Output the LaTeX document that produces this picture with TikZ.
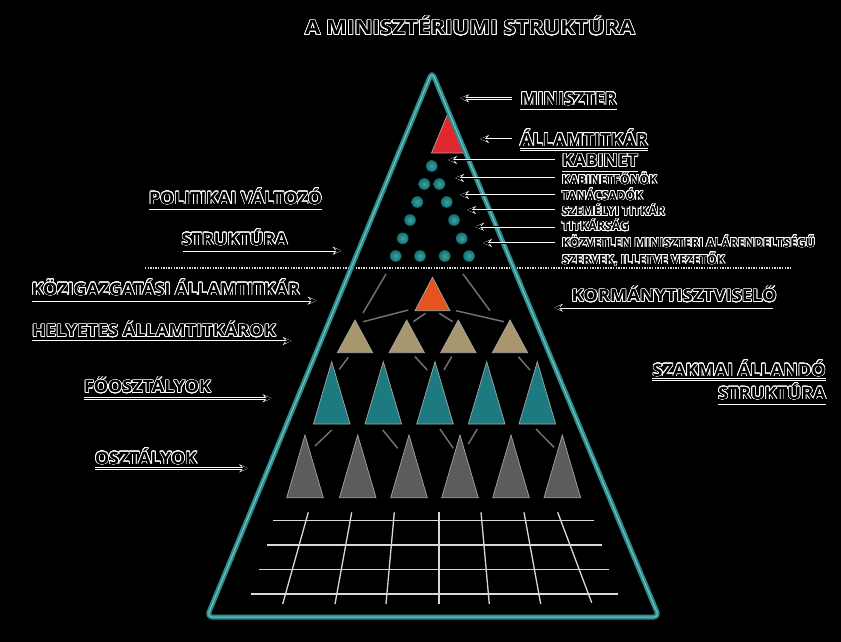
\documentclass[tikz,border=0pt]{standalone}
\usepackage{fontspec}
\setmainfont{Open Sans}
\usepackage{graphicx}
\usepackage{contour}
\contourlength{0.6pt}
\contournumber{24}
\usetikzlibrary{arrows.meta}
\definecolor{pyr}{HTML}{2B8C8E}
\definecolor{pyrhi}{HTML}{7CC4C4}
\definecolor{dotin}{HTML}{3AA5A5}
\definecolor{dotout}{HTML}{146E6E}
\definecolor{redt}{HTML}{E0282E}
\definecolor{orat}{HTML}{E5531E}
\definecolor{tant}{HTML}{A8976E}
\definecolor{tealt}{HTML}{1D7A80}
\definecolor{greyt}{HTML}{5C5C5C}
\definecolor{conn}{HTML}{707070}
\definecolor{gridc}{HTML}{D8D8D8}
\newcommand\lbl[3]{\fontsize{#1}{#1}\selectfont\bfseries\resizebox{#2pt}{\height}{\contour{white}{#3}}}
\newcommand\trip[5]{\fill[#5, draw=gray!70, line width=0.7pt] (#1,#2) -- (#1+#4,#3) -- (#1-#4,#3) -- cycle;}
\tikzset{
  lab/.style={inner sep=0pt, outer sep=0pt, anchor=base west},
  arr/.style={draw=black, line width=0.9pt, -{Stealth[length=7pt,width=5pt]},
     preaction={draw=white, line width=2.4pt, -{Stealth[length=9pt,width=8pt]}}},
  uline/.style={draw=black, line width=0.9pt, preaction={draw=white, line width=2.4pt}},
  cline/.style={draw=conn, line width=1.5pt},
  gline/.style={draw=gridc, line width=1.3pt},
  dotball/.style={inner color=dotin, outer color=dotout},
}
\begin{document}
\begin{tikzpicture}[x=1pt,y=-1pt]
\fill[black] (0,0) rectangle (841,642);
\useasboundingbox (0,0) rectangle (841,642);

% title
\node[lab] (title) at (305,35) {\lbl{20}{330}{A MINISZTÉRIUMI STRUKTÚRA}};

% dotted separator
\coordinate (sepL) at (145,268);
\coordinate (sepR) at (790,268);
\draw[gridc, line width=2pt, dash pattern=on 1.3pt off 1.3pt] (sepL) -- (sepR);

% red triangle
\trip{448}{113}{153}{16.5}{redt}

% dots
\foreach \p [count=\i] in {(431.7,166),(424.3,184),(439.3,184),(417.3,202),(446.7,202),(410,220),(454,220),(402.7,238.3),(461.7,238.3),(395.7,256),(420,256),(444.7,256),(469,256)}
  \shade[dotball] \p circle (5.8);

% connectors level 1
\coordinate (c1a) at (386,274); \coordinate (c1b) at (363,313);
\coordinate (c2a) at (463,274); \coordinate (c2b) at (490,310.7);
\coordinate (c3a) at (408.3,310); \coordinate (c3b) at (363.3,321.7);
\coordinate (c4a) at (425.5,313.3); \coordinate (c4b) at (413.3,321.7);
\coordinate (c5a) at (439.3,313.3); \coordinate (c5b) at (452.7,321.7);
\coordinate (c6a) at (456,310.7); \coordinate (c6b) at (504,321.7);
\foreach \k in {1,...,6} \draw[cline] (c\k a) -- (c\k b);
% connectors level 2
\coordinate (d1a) at (348.3,357.3); \coordinate (d1b) at (339.3,369.3);
\coordinate (d2a) at (415,356.7); \coordinate (d2b) at (427.3,370);
\coordinate (d3a) at (451.7,356.7); \coordinate (d3b) at (444,370);
\coordinate (d4a) at (518.3,356.7); \coordinate (d4b) at (530,370);
\foreach \k in {1,...,4} \draw[cline] (d\k a) -- (d\k b);
% connectors level 3
\coordinate (e1a) at (331.7,430); \coordinate (e1b) at (315,446);
\coordinate (e2a) at (382.7,430); \coordinate (e2b) at (397.7,448.3);
\coordinate (e3a) at (440,429); \coordinate (e3b) at (453.3,448.3);
\coordinate (e4a) at (477.3,429); \coordinate (e4b) at (468.3,444);
\coordinate (e5a) at (536,429); \coordinate (e5b) at (554,447.3);
\foreach \k in {1,...,5} \draw[cline] (e\k a) -- (e\k b);

% orange
\trip{432.5}{277.3}{310.7}{17.5}{orat}
% tan
\foreach \cx in {355,406.7,458.3,510} {\trip{\cx}{320}{352.7}{17.7}{tant}}
% teal
\foreach \cx in {331.7,383.3,435,486.7,537.3} {\trip{\cx}{361.7}{424}{18.3}{tealt}}
% grey
\foreach \cx in {305,357.7,409,460,511,562.3} {\trip{\cx}{435}{497.7}{18.3}{greyt}}

% grid
\draw[gline] (273.3,520.7) -- (594,520.7);
\draw[gline] (267.3,545) -- (601.7,545);
\draw[gline] (259.3,569.3) -- (609.3,569.3);
\draw[gline] (251,594) -- (618.3,594);
\draw[gline] (308.3,512.3) -- (282.7,604);
\draw[gline] (351.7,512.3) -- (335,604);
\draw[gline] (394.3,512.3) -- (386,604);
\draw[gline] (439,512.3) -- (439,604);
\draw[gline] (481,512.3) -- (489.3,604);
\draw[gline] (524,512.3) -- (540.7,604);
\draw[gline] (557.7,512.3) -- (591.7,602.7);

% pyramid outline
\coordinate (apex) at (432,72);
\coordinate (bl) at (207,617);
\coordinate (br) at (659,617);
\draw[pyr, line width=5pt, rounded corners=5pt, line join=round] (apex) -- (br) -- (bl) -- cycle;
\draw[pyrhi, line width=1pt, rounded corners=5pt, line join=round] (apex) -- (br) -- (bl) -- cycle;

% right labels
\node[lab] (minis) at (520.7,105) {\lbl{18}{96}{MINISZTER}};
\node[lab] (allam) at (520,146) {\lbl{18}{128}{ÁLLAMTITKÁR}};
\node[lab] (kab) at (562,166.7) {\lbl{17.5}{76}{KABINET}};
\node[lab] (kabf) at (562,184) {\lbl{12.5}{95}{KABINETFŐNÖK}};
\node[lab] (tan) at (562,200) {\lbl{12.5}{81}{TANÁCSADÓK}};
\node[lab] (szem) at (562,215.7) {\lbl{12.5}{103}{SZEMÉLYI TITKÁR}};
\node[lab] (titk) at (562,230.7) {\lbl{12.5}{67}{TITKÁRSÁG}};
\node[lab] (kozv) at (562,247) {\lbl{12.5}{253}{KÖZVETLEN MINISZTERI ALÁRENDELTSÉGŰ}};
\node[lab] (szerv) at (562,264) {\lbl{12.5}{163}{SZERVEK, ILLETVE VEZETŐK}};

\draw[uline] (520,110) coordinate (u1a) -- (617,110) coordinate (u1b);
\draw[uline] (520,149.3) coordinate (u2a) -- (648,149.3) coordinate (u2b);
\draw[uline] (562,170.7) coordinate (u3a) -- (638,170.7) coordinate (u3b);

\coordinate (a1s) at (512,98.3);  \coordinate (a1e) at (460,98.3);
\coordinate (a2s) at (512,139);   \coordinate (a2e) at (480,139);
\coordinate (a3s) at (555,160);   \coordinate (a3e) at (448,160);
\coordinate (a4s) at (555,178);   \coordinate (a4e) at (455,178);
\coordinate (a5s) at (555,195);   \coordinate (a5e) at (460,195);
\coordinate (a6s) at (555,210);   \coordinate (a6e) at (467,210);
\coordinate (a7s) at (555,226.7); \coordinate (a7e) at (475,226.7);
\coordinate (a8s) at (555,243);   \coordinate (a8e) at (483,243);
\foreach \k in {1,...,8} \draw[arr] (a\k s) -- (a\k e);

% left labels
\node[lab] (pol) at (149,204) {\lbl{17}{173}{POLITIKAI VÁLTOZÓ}};
\draw[uline] (149,210) coordinate (u4a) -- (322,210) coordinate (u4b);
\node[lab] (str1) at (181.7,245) {\lbl{17}{106}{STRUKTÚRA}};
\draw[arr] (183,250.7) coordinate (b1s) -- (341.7,250.7) coordinate (b1e);
\node[lab] (kozig) at (31.7,295) {\lbl{17}{268}{KÖZIGAZGATÁSI ÁLLAMTITKÁR}};
\draw[arr] (32,300.7) coordinate (b2s) -- (316.7,300.7) coordinate (b2e);
\node[lab] (hely) at (32,336.7) {\lbl{17}{244}{HELYETES ÁLLAMTITKÁROK}};
\draw[arr] (32,341) coordinate (b3s) -- (291.7,341) coordinate (b3e);
\node[lab] (foo) at (84,392.7) {\lbl{17}{127}{FŐOSZTÁLYOK}};
\draw[arr] (84,398.3) coordinate (b4s) -- (271.7,398.3) coordinate (b4e);
\node[lab] (oszt) at (95,464) {\lbl{17}{102}{OSZTÁLYOK}};
\draw[arr] (95,468.3) coordinate (b5s) -- (248.3,468.3) coordinate (b5e);

% right side lower labels
\node[lab] (korm) at (571.7,301.7) {\lbl{17}{205}{KORMÁNYTISZTVISELŐ}};
\draw[arr] (773,307.7) coordinate (b6s) -- (554,307.7) coordinate (b6e);
\node[lab] (szak) at (652.7,376) {\lbl{17}{173}{SZAKMAI ÁLLANDÓ}};
\draw[uline] (652,379.3) coordinate (u5a) -- (826,379.3) coordinate (u5b);
\node[lab] (str2) at (718,399.3) {\lbl{17}{108}{STRUKTÚRA}};
\draw[uline] (718,405) coordinate (u6a) -- (826,405) coordinate (u6b);
\end{tikzpicture}
\end{document}
